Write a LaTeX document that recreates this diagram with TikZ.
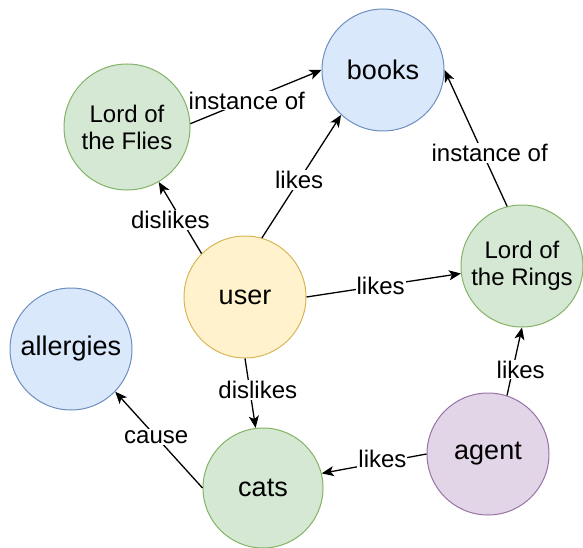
\documentclass[tikz,border=0pt]{standalone}
\usepackage{fontspec}
\setmainfont{Liberation Sans}
\usepackage{tikz}
\usetikzlibrary{arrows.meta}
\definecolor{bluefill}{HTML}{DAE8FC}
\definecolor{blueline}{HTML}{6C8EBF}
\definecolor{greenfill}{HTML}{D5E8D4}
\definecolor{greenline}{HTML}{82B366}
\definecolor{yellowfill}{HTML}{FFF2CC}
\definecolor{yellowline}{HTML}{D6B656}
\definecolor{purplefill}{HTML}{E1D5E7}
\definecolor{purpleline}{HTML}{9673A6}
\def\nodefont{\fontsize{27}{30}\selectfont}
\def\edgefont{\fontsize{24}{27}\selectfont}

\begin{document}
\begin{tikzpicture}[x=1pt,y=-1pt,
  thing/.style={circle,minimum size=122pt,inner sep=0pt,line width=1pt,align=center,font=\nodefont},
  blue/.style={thing,fill=bluefill,draw=blueline},
  green/.style={thing,fill=greenfill,draw=greenline},
  yellow/.style={thing,fill=yellowfill,draw=yellowline},
  purple/.style={thing,fill=purplefill,draw=purpleline},
  rel/.style={line width=1.3pt,-{Stealth[length=12pt,width=10pt,inset=3pt]}},
  lbl/.style={fill=white,inner sep=1pt,font=\edgefont}]
\useasboundingbox (0,0) rectangle (583,548);
\node[blue] (books) at (383,70) {books};
\node[green,minimum size=126pt,font=\edgefont] (lotf) at (127,127) {Lord of\\the Flies};
\node[yellow] (user) at (245,297) {user};
\node[green,font=\edgefont] (lotr) at (522,266) {Lord of\\the Rings};
\node[blue] (allergies) at (71,349) {allergies};
\node[green,minimum size=120pt] (cats) at (263,488) {cats};
\node[purple] (agent) at (488,454) {agent};
\draw[rel] (lotf.3) -- node[lbl,pos=.43] {instance of} (books.west);
\draw[rel] (user.135) -- node[lbl,pos=.47,xshift=-11pt] {dislikes} (lotf.300);
\draw[rel] (user.74) -- node[lbl,pos=.47] {likes} (books.227);
\draw[rel] (lotr.104) -- node[lbl,pos=.39,xshift=7pt] {instance of} (books.east);
\draw[rel] (user.east) -- node[lbl,pos=.48] {likes} (lotr.187);
\draw[rel] (user.south) -- node[lbl,pos=.45,xshift=8pt] {dislikes} (cats.97);
\draw[rel] (cats.west) -- node[lbl,pos=.53] {cause} (allergies.316);
\draw[rel] (agent.west) -- node[lbl,pos=.42,yshift=3pt] {likes} (cats.14);
\draw[rel] (agent.72) -- node[lbl,pos=.38,xshift=8pt] {likes} (lotr.south);
\end{tikzpicture}
\end{document}
